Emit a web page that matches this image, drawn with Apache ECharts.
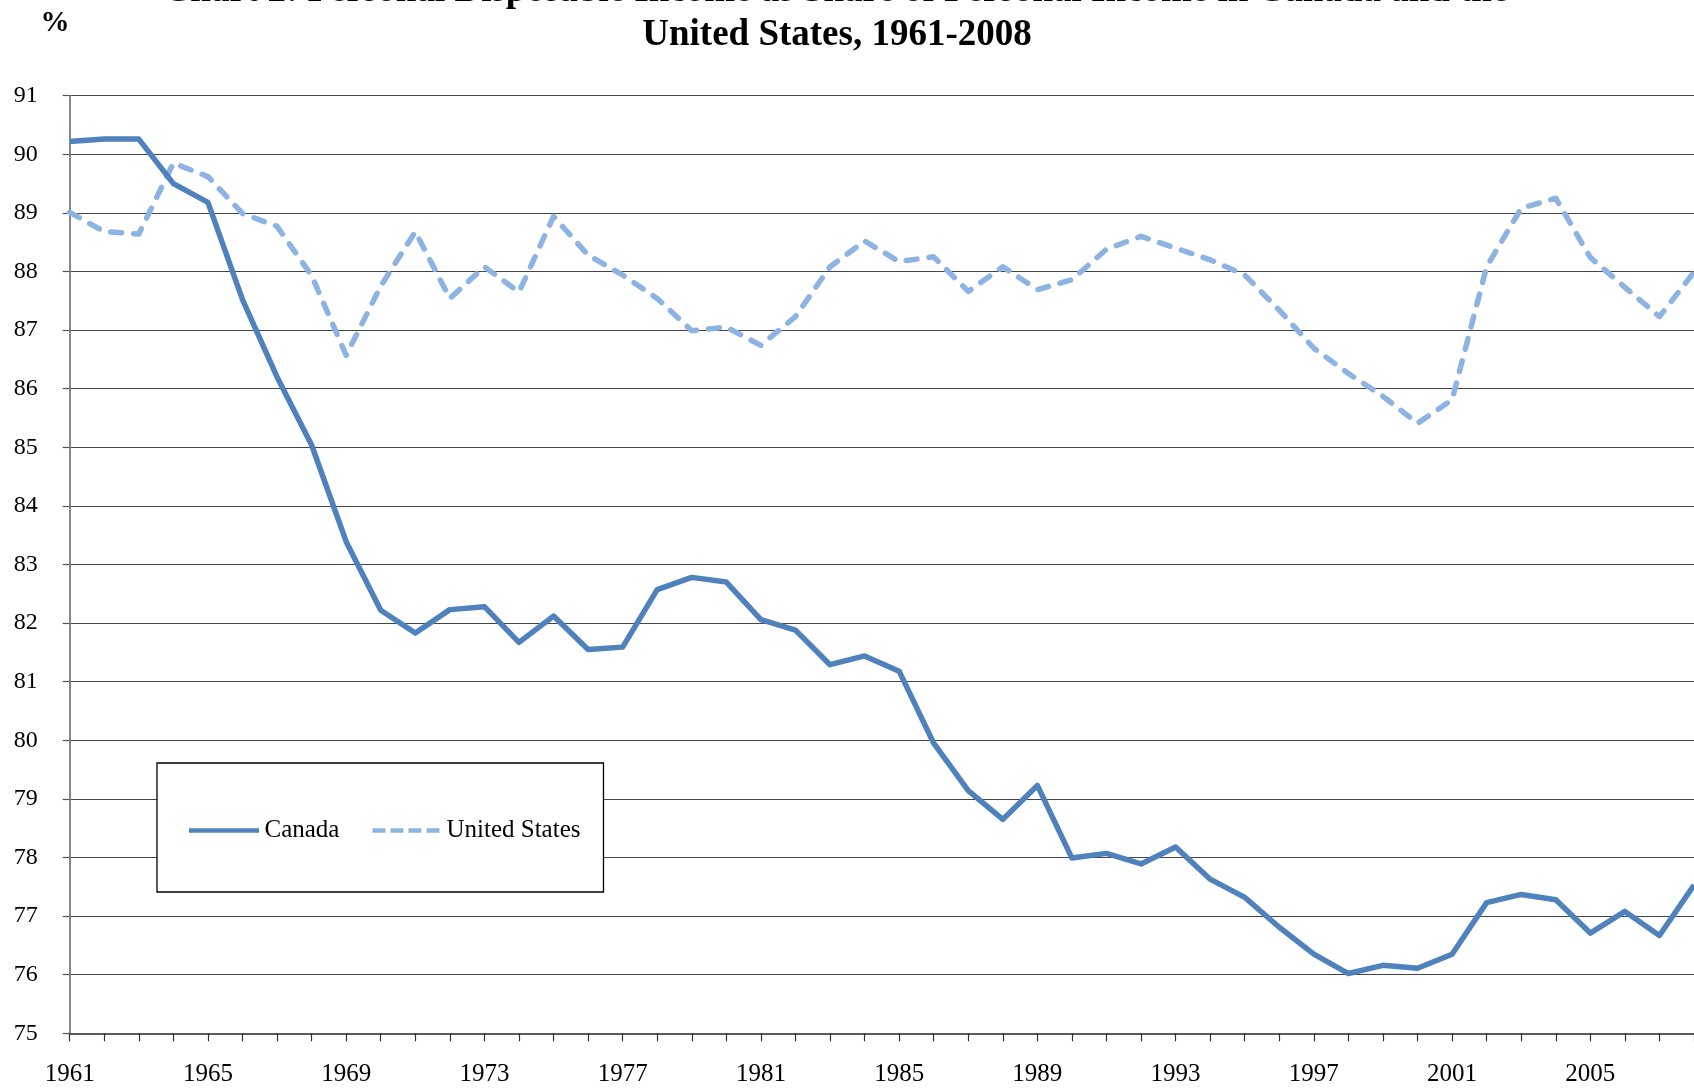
<!DOCTYPE html>
<html>
<head>
<meta charset="utf-8">
<title>Personal Disposable Income as Share of Personal Income</title>
<script src="https://cdn.jsdelivr.net/npm/echarts@6/dist/echarts.min.js"></script>
<style>
  html, body { margin: 0; padding: 0; background: #fff; }
  #chart { width: 1694px; height: 1089px; }
</style>
</head>
<body>
<div id="chart"></div>
<script>
// years on the x axis
const years = ['1961', '1962', '1963', '1964', '1965', '1966', '1967', '1968', '1969', '1970',
  '1971', '1972', '1973', '1974', '1975', '1976', '1977', '1978', '1979', '1980',
  '1981', '1982', '1983', '1984', '1985', '1986', '1987', '1988', '1989', '1990',
  '1991', '1992', '1993', '1994', '1995', '1996', '1997', '1998', '1999', '2000',
  '2001', '2002', '2003', '2004', '2005', '2006', '2007', '2008'];

// disposable income as % of personal income
const canada = [90.22, 90.26, 90.26, 89.50, 89.18, 87.52, 86.20, 85.04, 83.39, 82.22,
  81.83, 82.23, 82.28, 81.67, 82.12, 81.55, 81.59, 82.57, 82.78, 82.70,
  82.06, 81.88, 81.29, 81.44, 81.18, 79.95, 79.14, 78.65, 79.23, 77.99,
  78.07, 77.89, 78.18, 77.63, 77.32, 76.81, 76.35, 76.02, 76.16, 76.11,
  76.35, 77.23, 77.37, 77.28, 76.71, 77.08, 76.67, 77.53];

const unitedStates = [89.01, 88.68, 88.64, 89.85, 89.62, 88.99, 88.77, 87.93, 86.57, 87.75,
  88.68, 87.54, 88.08, 87.65, 88.94, 88.28, 87.94, 87.54, 86.99, 87.05,
  86.74, 87.23, 88.08, 88.52, 88.17, 88.25, 87.66, 88.08, 87.69, 87.86,
  88.38, 88.60, 88.40, 88.20, 87.94, 87.34, 86.69, 86.26, 85.87, 85.41,
  85.81, 88.08, 89.08, 89.25, 88.24, 87.73, 87.23, 87.99];

const titleLines = [
  'Chart 2: Personal Disposable Income as Share of Personal Income in Canada and the',
  'United States, 1961-2008'
];

const serif = '"Liberation Serif", "Times New Roman", serif';

// legend icons: a solid bar and a four-dash bar
const solidIcon = 'path://M0,0H70V4.5H0Z';
const dashIcon = 'path://M0,0H13V4.5H0Z M18,0H31V4.5H18Z M36,0H49V4.5H36Z M54,0H67V4.5H54Z';

const chart = echarts.init(document.getElementById('chart'));

chart.setOption({
  backgroundColor: '#fff',
  animation: false,
  textStyle: { fontFamily: serif },
  graphic: [
    {
      type: 'text', x: 836, y: -9,
      style: { text: titleLines[0], font: 'bold 37px ' + serif, fill: '#000', align: 'center', verticalAlign: 'middle' }
    },
    {
      type: 'text', x: 837, y: 35,
      style: { text: titleLines[1], font: 'bold 37px ' + serif, fill: '#000', align: 'center', verticalAlign: 'middle' }
    },
    {
      type: 'text', x: 55, y: 24,
      style: { text: '%', font: 'bold 29px ' + serif, fill: '#000', align: 'center', verticalAlign: 'middle' }
    }
  ],
  legend: {
    data: [
      { name: 'Canada', icon: solidIcon },
      { name: 'United States', icon: dashIcon }
    ],
    left: 157,
    top: 763,
    orient: 'horizontal',
    itemWidth: 71,
    itemHeight: 4.5,
    itemGap: 33,
    padding: [55, 23, 49, 32],
    borderColor: '#000',
    borderWidth: 1.3,
    backgroundColor: '#fff',
    textStyle: { fontSize: 25, fontFamily: serif, color: '#000' }
  },
  grid: {
    left: 69.7,
    right: -1,
    top: 95.7,
    bottom: 55.7,
    containLabel: false
  },
  xAxis: {
    type: 'category',
    data: years,
    boundaryGap: false,
    axisLine: { lineStyle: { color: '#5a5a5a', width: 2 } },
    axisTick: { show: true, interval: 0, length: 8, lineStyle: { color: '#333', width: 1.2 } },
    axisLabel: { interval: 3, fontSize: 25, fontFamily: serif, color: '#000', margin: 29 },
    splitLine: { show: false }
  },
  yAxis: {
    type: 'value',
    min: 75,
    max: 91,
    interval: 1,
    axisLine: { show: true, lineStyle: { color: '#888', width: 2 } },
    axisTick: { show: true, length: 7, lineStyle: { color: '#555', width: 1.2 } },
    axisLabel: { fontSize: 24, fontFamily: serif, color: '#000', margin: 32 },
    splitLine: { show: true, lineStyle: { color: '#444', width: 1.2 } }
  },
  series: [
    {
      name: 'United States',
      type: 'line',
      data: unitedStates,
      symbol: 'none',
      lineStyle: { color: '#8DB3E2', width: 5.5, type: [11, 12], cap: 'round', join: 'round' },
      itemStyle: { color: '#8DB3E2' }
    },
    {
      name: 'Canada',
      type: 'line',
      data: canada,
      symbol: 'none',
      lineStyle: { color: '#4F81BD', width: 5.5, join: 'round' },
      itemStyle: { color: '#4F81BD' }
    }
  ]
});
</script>
</body>
</html>
